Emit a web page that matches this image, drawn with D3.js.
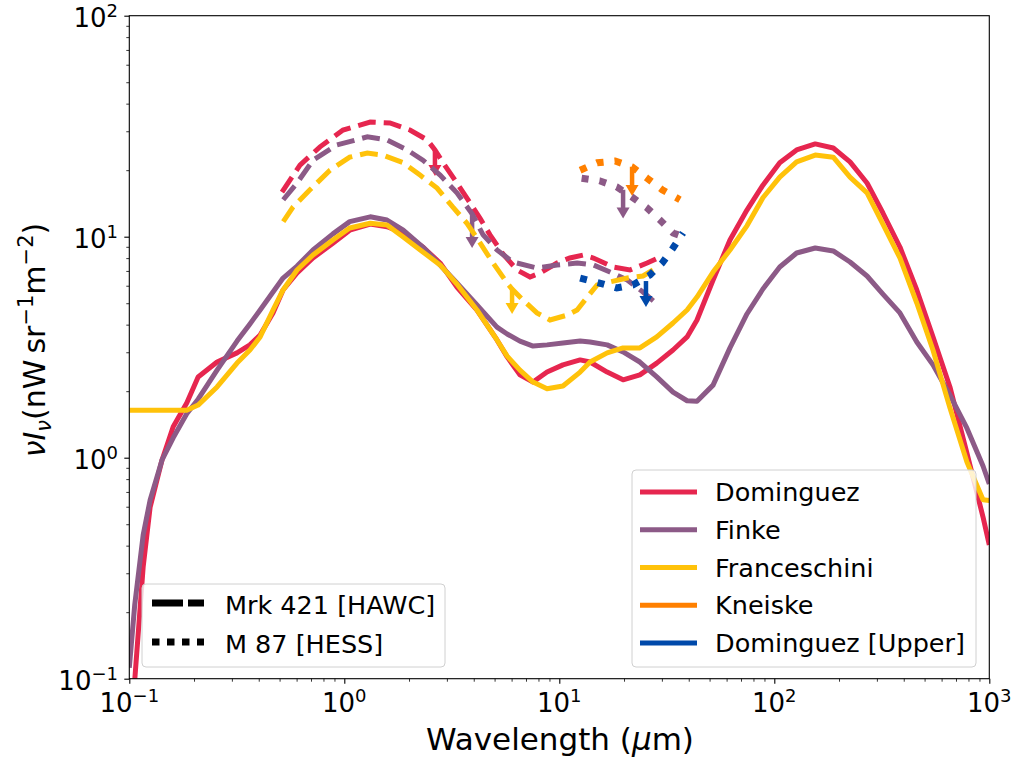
<!DOCTYPE html>
<html>
<head>
<meta charset="utf-8">
<script src="https://cdnjs.cloudflare.com/ajax/libs/d3/7.8.5/d3.min.js"></script>
<style>
    body { margin: 0; background: #fff; }
    svg text { font-family: "DejaVu Sans", sans-serif; fill: #000; }
    .it { font-style: italic; }
</style>
</head>
<body>
<svg id="chart" width="1016" height="759"></svg>
<script>
// Wavelength grid (um) of the three EBL models
const wavelength = [0.1, 0.106, 0.116, 0.125, 0.142, 0.160, 0.185, 0.209, 0.256, 0.317, 0.364, 0.406, 0.466, 0.519, 0.603, 0.715, 0.885,
    1.06, 1.32, 1.58, 1.88, 2.32, 2.79, 3.34, 4.14, 5.13, 5.72, 6.56, 7.55, 8.77, 10.4, 12.5, 13.9, 16.7, 19.8, 23.7, 28.4, 33.8,
    39.3, 43.7, 51.9, 62.2, 74.6, 88.5, 106, 127, 155, 188, 225, 270, 320, 384, 460, 547, 656, 787, 935, 1000];

const dominguez = [0.041, 0.0986, 0.320, 0.598, 0.977, 1.38, 1.77, 2.32, 2.71, 2.98, 3.24, 3.59, 4.52, 5.74, 6.85, 8.01, 9.35,
    10.7, 11.4, 11.1, 10.4, 8.98, 7.60, 5.92, 4.66, 3.41, 2.86, 2.37, 2.20, 2.44, 2.63, 2.77, 2.71, 2.44, 2.25, 2.37, 2.68, 3.07,
    3.52, 4.20, 6.37, 9.66, 13.2, 17.1, 21.6, 24.7, 26.3, 25.2, 21.8, 17.5, 12.8, 8.98, 5.74, 3.52, 2.09, 1.05, 0.539, 0.403];

const finke = [0.112, 0.216, 0.447, 0.644, 0.977, 1.23, 1.58, 1.84, 2.49, 3.37, 4.03, 4.66, 5.62, 6.50, 7.36, 8.71, 10.3,
    11.7, 12.3, 11.9, 10.7, 8.98, 7.45, 6.17, 4.91, 3.90, 3.63, 3.37, 3.20, 3.24, 3.30, 3.37, 3.34, 3.24, 3.01, 2.71, 2.32, 1.98,
    1.81, 1.80, 2.13, 3.14, 4.47, 5.80, 7.29, 8.44, 8.89, 8.62, 7.68, 6.64, 5.50, 4.52, 3.34, 2.63, 1.92, 1.36, 0.917, 0.760];

const franceschini = [1.64, 1.64, 1.64, 1.64, 1.64, 1.64, 1.64, 1.73, 2.09, 2.68, 3.07, 3.52, 4.66, 5.74, 7.07, 8.26, 9.66,
    10.95, 11.5, 11.3, 9.97, 8.53, 7.45, 6.11, 4.66, 3.41, 2.88, 2.49, 2.20, 2.05, 2.11, 2.44, 2.71, 2.98, 3.14, 3.14, 3.52, 4.07,
    4.66, 5.33, 6.92, 8.71, 11.2, 15.0, 18.6, 21.8, 23.4, 22.9, 18.6, 15.8, 11.4, 8.01, 5.01, 3.07, 1.68, 0.956, 0.645, 0.64];

// Mrk 421 [HAWC] upper limits (dashed)
const mrkDominguezWl = [0.513, 0.622, 0.771, 0.986, 1.32, 1.63, 2.02, 2.43, 2.64, 2.88, 3.34, 3.85, 4.28, 4.76, 5.47, 6.36,
    7.31, 8.13, 9.75, 11.2, 12.9, 14.4, 17.8, 21.3, 25.6, 30.1];
const mrkDominguez = [15.9, 21.1, 25.5, 30.4, 33.0, 32.7, 30.4, 27.4, 24.7, 21.6, 17.5, 14.2, 12.1, 10.2, 8.35, 7.07,
    6.57, 6.85, 7.60, 8.01, 8.26, 8.01, 7.29, 7.07, 7.60, 8.18];
const mrkFinkeWl = [0.520, 0.603, 0.715, 0.924, 1.28, 1.58, 1.96, 2.32, 2.79, 3.34, 3.93, 4.42, 5.13, 6.09, 7.88, 9.75,
    12.1, 14.4, 17.2, 20.7, 24.5, 28.8];
const mrkFinke = [14.7, 17.5, 22.2, 26.0, 28.3, 27.4, 24.7, 22.2, 19.0, 15.8, 12.7, 10.2, 8.71, 7.68, 7.22, 7.45,
    7.60, 7.45, 6.92, 6.37, 5.62, 4.91];
const mrkFranceschiniWl = [0.520, 0.577, 0.692, 0.858, 1.06, 1.28, 1.51, 1.88, 2.25, 2.70, 3.20, 3.72, 4.28, 4.92, 5.72,
    6.03, 6.78, 7.87, 9.05, 10.9, 12.1, 13.5, 15.0, 17.2, 20.7, 24.5, 27.3, 28.8];
const mrkFranceschini = [11.7, 13.6, 16.3, 20.0, 22.9, 23.9, 23.4, 21.6, 19.0, 16.6, 13.6, 11.5, 9.37, 7.60, 6.17,
    5.80, 5.17, 4.52, 4.20, 4.42, 4.66, 5.33, 6.05, 6.24, 6.50, 6.64, 7.07, 7.52];

// M 87 [HESS] upper limits (dotted)
const m87KneiskeWl = [12.5, 15.0, 18.2, 21.8, 25.6, 30.1, 36.4];
const m87Kneiske = [20.0, 21.6, 22.0, 20.7, 18.4, 16.3, 14.7];
const m87FinkeWl = [12.7, 15.4, 18.5, 21.8, 25.6, 29.4, 33.8, 39.3];
const m87Finke = [18.4, 17.9, 16.8, 15.1, 13.5, 11.9, 10.4, 9.86];
const m87DomUpperWl = [12.5, 15.4, 18.5, 22.0, 26.4, 30.1, 33.8, 37.6];
const m87DomUpper = [6.50, 6.17, 5.86, 6.05, 6.71, 7.60, 8.89, 10.4];

// limit arrows: wavelength, start value, end value
const arrowWl = [2.64, 3.93, 6.03, 21.8, 19.8, 25.3];
const arrowFrom = [24.7, 12.7, 5.80, 20.7, 16.3, 6.30];
const arrowTo = [18.8, 8.89, 4.47, 15.3, 12.1, 4.81];
const arrowModel = ["Dominguez", "Finke", "Franceschini", "Kneiske", "Finke", "Dominguez [Upper]"];

const modelNames = ["Dominguez", "Finke", "Franceschini", "Kneiske", "Dominguez [Upper]"];
const sourceNames = ["Mrk 421 [HAWC]", "M 87 [HESS]"];
const xTicks = [0.1, 1, 10, 100, 1000];
const yTicks = [0.1, 1, 10, 100];

const colors = {
    "Dominguez": "#E6264F",
    "Finke": "#8C5A87",
    "Franceschini": "#FFC20A",
    "Kneiske": "#FF8000",
    "Dominguez [Upper]": "#0049AA"
};

const margin = { left: 129.3, right: 989.3, top: 15.7, bottom: 678.7 };
const svg = d3.select("#chart");

const x = d3.scaleLog().domain([0.1, 1000]).range([margin.left, margin.right]);
const y = d3.scaleLog().domain([0.1, 100]).range([margin.bottom, margin.top]);

svg.append("defs").append("clipPath").attr("id", "plotclip")
    .append("rect")
    .attr("x", margin.left).attr("y", margin.top)
    .attr("width", margin.right - margin.left).attr("height", margin.bottom - margin.top);

const plot = svg.append("g").attr("clip-path", "url(#plotclip)");
const line = d3.line().x(d => x(d[0])).y(d => y(d[1]));
const zip = (a, b) => a.map((v, i) => [v, b[i]]);

function drawLine(wl, vals, color, style) {
    const p = plot.append("path")
        .datum(zip(wl, vals))
        .attr("fill", "none")
        .attr("stroke", color)
        .attr("d", line);
    if (style === "dashed") {
        p.attr("stroke-width", 5).attr("stroke-dasharray", "18,8");
    } else if (style === "dotted") {
        p.attr("stroke-width", 7).attr("stroke-dasharray", "7,11");
    } else {
        p.attr("stroke-width", 5).attr("stroke-linejoin", "round");
    }
}

function drawArrow(i) {
    const cx = x(arrowWl[i]);
    const y0 = y(arrowFrom[i]);
    const y1 = y(arrowTo[i]);
    const color = colors[arrowModel[i]];
    const head = 11;
    plot.append("line")
        .attr("x1", cx).attr("x2", cx)
        .attr("y1", y0).attr("y2", y1 - head + 1)
        .attr("stroke", color).attr("stroke-width", 4.5);
    plot.append("path")
        .attr("d", `M${cx - 6.5},${y1 - head}L${cx + 6.5},${y1 - head}L${cx},${y1}Z`)
        .attr("fill", color);
}

// solid models
drawLine(wavelength, dominguez, colors["Dominguez"], "solid");
drawLine(wavelength, finke, colors["Finke"], "solid");
drawLine(wavelength, franceschini, colors["Franceschini"], "solid");

// Mrk 421
drawLine(mrkDominguezWl, mrkDominguez, colors["Dominguez"], "dashed");
drawArrow(0);
drawLine(mrkFinkeWl, mrkFinke, colors["Finke"], "dashed");
drawArrow(1);
drawLine(mrkFranceschiniWl, mrkFranceschini, colors["Franceschini"], "dashed");
drawArrow(2);

// M 87
drawLine(m87KneiskeWl, m87Kneiske, colors["Kneiske"], "dotted");
drawArrow(3);
drawLine(m87FinkeWl, m87Finke, colors["Finke"], "dotted");
drawArrow(4);
drawLine(m87DomUpperWl, m87DomUpper, colors["Dominguez [Upper]"], "dotted");
drawArrow(5);

// minor tick values for log axes
function minors(lo, hi) {
    const out = [];
    for (let e = Math.log10(lo); e < Math.log10(hi); e++) {
        for (let k = 2; k <= 9; k++) out.push(k * Math.pow(10, e));
    }
    return out;
}

// axes
const xAxis = svg.append("g").attr("transform", `translate(0,${margin.bottom})`);
xAxis.call(d3.axisBottom(x).tickValues(xTicks).tickSize(5).tickSizeOuter(0).tickFormat(() => ""));
const xMinor = svg.append("g").attr("transform", `translate(0,${margin.bottom})`);
xMinor.call(d3.axisBottom(x).tickValues(minors(0.1, 1000)).tickSize(3).tickSizeOuter(0).tickFormat(() => ""));

const yAxis = svg.append("g").attr("transform", `translate(${margin.left},0)`);
yAxis.call(d3.axisLeft(y).tickValues(yTicks).tickSize(5).tickSizeOuter(0).tickFormat(() => ""));
const yMinor = svg.append("g").attr("transform", `translate(${margin.left},0)`);
yMinor.call(d3.axisLeft(y).tickValues(minors(0.1, 100)).tickSize(3).tickSizeOuter(0).tickFormat(() => ""));

[xAxis, yAxis].forEach(g => g.selectAll(".tick line").attr("stroke-width", 1.1));
[xMinor, yMinor].forEach(g => g.selectAll(".tick line").attr("stroke-width", 0.8));
svg.selectAll(".domain").remove();

// frame
svg.append("rect")
    .attr("x", margin.left).attr("y", margin.top)
    .attr("width", margin.right - margin.left).attr("height", margin.bottom - margin.top)
    .attr("fill", "none").attr("stroke", "#000").attr("stroke-width", 1.1);

function powLabel(t, v) {
    const e = Math.round(Math.log10(v));
    t.append("tspan").text("10");
    t.append("tspan").attr("dy", -10).attr("font-size", 18).text(e < 0 ? "\u2212" + (-e) : String(e));
}

xTicks.forEach(v => {
    const t = svg.append("text")
        .attr("x", x(v)).attr("y", 712)
        .attr("text-anchor", "middle")
        .attr("font-size", 26);
    powLabel(t, v);
});

yTicks.forEach(v => {
    const t = svg.append("text")
        .attr("x", 118).attr("y", y(v) + 11.5)
        .attr("text-anchor", "end")
        .attr("font-size", 26);
    powLabel(t, v);
});

// axis labels
const xl = svg.append("text")
    .attr("x", 560).attr("y", 750)
    .attr("text-anchor", "middle")
    .attr("font-size", 31);
xl.append("tspan").text("Wavelength (");
xl.append("tspan").attr("class", "it").text("\u03bc");
xl.append("tspan").text("m)");

const yl = svg.append("text")
    .attr("transform", "translate(45,340) rotate(-90)")
    .attr("text-anchor", "middle")
    .attr("font-size", 30);
yl.append("tspan").attr("class", "it").text("\u03bdI");
yl.append("tspan").attr("class", "it").attr("font-size", 21).attr("dy", 6).text("\u03bd");
yl.append("tspan").attr("dy", -6).text("(nW\u2009sr");
yl.append("tspan").attr("font-size", 21).attr("dy", -12).text("\u22121");
yl.append("tspan").attr("dy", 12).text("m");
yl.append("tspan").attr("font-size", 21).attr("dy", -12).text("\u22122");
yl.append("tspan").attr("dy", 12).text(")");

// model legend
const leg1 = svg.append("g");
leg1.append("rect")
    .attr("x", 632).attr("y", 470).attr("width", 344).attr("height", 197)
    .attr("rx", 4)
    .attr("fill", "#fff").attr("fill-opacity", 0.8)
    .attr("stroke", "#d0d0d0").attr("stroke-width", 1);
const rowY1 = d3.scaleLinear().domain([0, 4]).range([492, 643]);
modelNames.forEach((name, i) => {
    leg1.append("line")
        .attr("x1", 640).attr("x2", 697)
        .attr("y1", rowY1(i)).attr("y2", rowY1(i))
        .attr("stroke", colors[name]).attr("stroke-width", 5);
    leg1.append("text")
        .attr("x", 715).attr("y", rowY1(i) + 9)
        .attr("font-size", 25.5)
        .text(name);
});

// source legend
const leg2 = svg.append("g");
leg2.append("rect")
    .attr("x", 142).attr("y", 584).attr("width", 303).attr("height", 83)
    .attr("rx", 4)
    .attr("fill", "#fff").attr("fill-opacity", 0.8)
    .attr("stroke", "#d0d0d0").attr("stroke-width", 1);
const rowY2 = [603, 642];
const dashes2 = ["31,5", "7.5,7.5"];
sourceNames.forEach((name, i) => {
    leg2.append("line")
        .attr("x1", 152).attr("x2", 204)
        .attr("y1", rowY2[i]).attr("y2", rowY2[i])
        .attr("stroke", "#000").attr("stroke-width", 7)
        .attr("stroke-dasharray", dashes2[i]);
    leg2.append("text")
        .attr("x", 225).attr("y", rowY2[i] + 11)
        .attr("font-size", 25.5)
        .text(name);
});
</script>
</body>
</html>
